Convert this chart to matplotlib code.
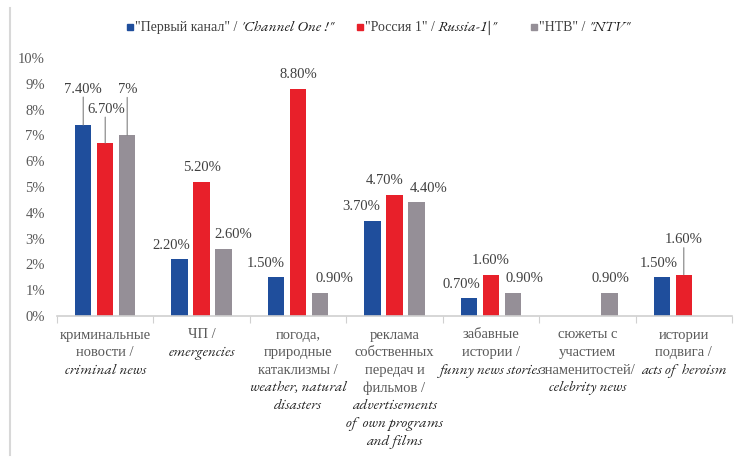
import numpy as np
import matplotlib
matplotlib.use('Agg')
import matplotlib.pyplot as plt
from matplotlib.lines import Line2D

plt.rcParams['font.family'] = ['Liberation Serif', 'DejaVu Serif']
ITAL = ['EB Garamond', 'Liberation Serif']

# categories: russian part (regular) and english part (italic)
cats_ru = ['криминальные\nновости /', 'ЧП /', 'погода,\nприродные\nкатаклизмы /',
           'реклама\nсобственных\nпередач и\nфильмов /', 'забавные\nистории /',
           'сюжеты с\nучастием\nзнаменитостей/', 'истории\nподвига /']
cats_en = ['criminal news', 'emergencies', 'weather, natural\ndisasters',
           'advertisements\nof  own programs\nand films', 'funny news stories',
           'celebrity news', 'acts of  heroism']

# legend: plain part + italic part
names_plain = ['"Первый канал" / ', '"Россия 1" / ', '"НТВ" / ']
names_ital = ['\'Channel One !"', 'Russia-1|"', '"NTV"']

perviy = [7.4, 2.2, 1.5, 3.7, 0.7, np.nan, 1.5]
rossiya = [6.7, 5.2, 8.8, 4.7, 1.6, np.nan, 1.6]
ntv = [7.0, 2.6, 0.9, 4.4, 0.9, 0.9, np.nan]

W, H = 736, 458
fig = plt.figure(figsize=(W / 100, H / 100), dpi=100)
ax = fig.add_axes([57 / W, 1 - 316 / H, 675 / W, (316 - 58) / H])

colors = ['#1f4e9c', '#e8202a', '#958f97']
series = [perviy, rossiya, ntv]
x = np.arange(len(cats_ru))
w = 0.17
step = 0.228

PX = 0.72  # px -> points
# label offsets in px: (dx, dy of label centre above bar top)
offs = {(0, 0): (0, 36), (0, 1): (1, 34), (0, 2): (1, 46),
        (1, 0): (-8, 14), (1, 1): (0, 14), (1, 2): (10, 14),
        (2, 0): (-10, 14), (2, 1): (0, 14), (2, 2): (14, 14),
        (3, 0): (-11, 14), (3, 1): (-10, 14), (3, 2): (12, 14),
        (4, 0): (-8, 13), (4, 1): (0, 14), (4, 2): (12, 14),
        (5, 2): (1, 14),
        (6, 0): (-3, 14), (6, 1): (0, 35)}

for k, vals in enumerate(series):
    v = np.array(vals, dtype=float)
    xs = x + (k - 1) * step
    ok = ~np.isnan(v)
    ax.bar(xs[ok], v[ok], w, color=colors[k], zorder=2)
    for i in np.where(ok)[0]:
        val = v[i]
        lab = '%d%%' % val if float(val).is_integer() else '%.2f%%' % val
        dx, dy = offs.get((i, k), (0, 14))
        ax.annotate(lab, xy=(xs[i], val), xytext=(dx * PX, dy * PX),
                    textcoords='offset points', ha='center', va='center',
                    fontsize=10.5, color='#404040')
        if dy > 20:
            ax.annotate('', xy=(xs[i], val), xytext=(0, (dy - 8) * PX),
                        textcoords='offset points',
                        arrowprops=dict(arrowstyle='-', color='#808080', lw=0.8,
                                        shrinkA=0, shrinkB=0))

ax.set_xlim(-0.5, len(cats_ru) - 0.5)
ax.set_ylim(0, 10)
ax.set_yticks(range(11))
ax.set_yticklabels(['%d%%' % t for t in range(11)], fontsize=10.5, color='#595959')
ax.tick_params(axis='y', length=0, pad=12 * PX)
ax.set_xticks(np.arange(-0.5, len(cats_ru)))
ax.set_xticklabels([])
ax.tick_params(axis='x', length=5, color='#d0d0d0', direction='out')
for s in ['top', 'right', 'left']:
    ax.spines[s].set_visible(False)
ax.spines['bottom'].set_color('#d0d0d0')
ax.spines['bottom'].set_linewidth(1.2)

# category labels, one line at a time
for i in range(len(cats_ru)):
    lines = [(t, 'normal', '#595959', 10.5, plt.rcParams['font.family'])
             for t in cats_ru[i].split('\n')]
    lines += [(t, 'italic', '#222222', 11, ITAL) for t in cats_en[i].split('\n')]
    for j, (t, st, c, fs, fam) in enumerate(lines):
        ax.annotate(t, xy=(i, 0), xycoords=('data', 'axes fraction'),
                    xytext=(0, -(19 + j * 17.8) * PX), textcoords='offset points',
                    ha='center', va='center', fontsize=fs, style=st, color=c,
                    family=fam)

# legend drawn by hand (mixed regular / italic)
leg_x = [127, 357, 531]
ly = 1 - 27 / H
firsts = []
for k in range(3):
    fig.add_artist(Line2D([(leg_x[k] + 3) / W], [ly], marker='s', ms=5,
                          color=colors[k], transform=fig.transFigure))
    t = fig.text((leg_x[k] + 8) / W, ly - 4 / H, names_plain[k], ha='left',
                 va='baseline', fontsize=10, color='#404040')
    firsts.append(t)
fig.canvas.draw()
for k in range(3):
    bb = firsts[k].get_window_extent()
    fig.text(bb.x1 / W, ly - 4 / H, names_ital[k], ha='left', va='baseline',
             fontsize=11, style='italic', color='#1a1a1a', family=ITAL)

# thin frame line on the left
fig.add_artist(Line2D([10 / W, 10 / W], [1 - 8 / H, 1 - 455 / H], color='#d8d8d8',
                      lw=1.5, transform=fig.transFigure))

fig.savefig('out.png', dpi=100)
